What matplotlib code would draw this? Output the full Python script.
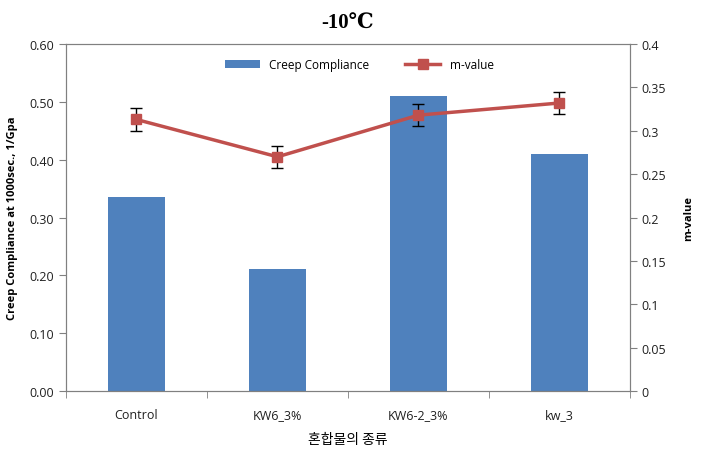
import matplotlib
matplotlib.use("Agg")
import matplotlib.pyplot as plt
from matplotlib.lines import Line2D
import numpy as np

# data
categories = ["Control", "KW6_3%", "KW6-2_3%", "kw_3"]
creep = [0.335, 0.211, 0.510, 0.410]
m_value = [0.313, 0.270, 0.318, 0.332]
m_err = [0.013, 0.013, 0.013, 0.013]

plt.rcParams['font.family'] = ['Open Sans', 'DejaVu Sans']

fig = plt.figure(figsize=(7.05, 4.52), dpi=100)
ax = fig.add_axes([0.0936, 0.1327, 0.80, 0.7677])
ax2 = ax.twinx()

x = np.arange(len(categories))
bars = ax.bar(x, creep, width=0.4, color='#4F81BD', label='Creep Compliance', zorder=2)
ax2.errorbar(x, m_value, yerr=m_err, color='#C0504D', lw=2.5, marker='s',
             markersize=7, ecolor='black', elinewidth=1, capsize=4, capthick=1,
             zorder=3)

ax.set_xlim(-0.5, len(categories) - 0.5)
ax.set_ylim(0, 0.6)
ax2.set_ylim(0, 0.4)
ax.set_yticks(np.arange(0, 0.61, 0.1))
ax.set_yticklabels(["%.2f" % v for v in np.arange(0, 0.61, 0.1)])
ax2.set_yticks(np.arange(0, 0.41, 0.05))
ax2.set_yticklabels(["0", "0.05", "0.1", "0.15", "0.2", "0.25", "0.3", "0.35", "0.4"])

ax.set_xticks(x)
ax.set_xticklabels(categories)
ax.set_xticks(np.arange(-0.5, len(categories), 1), minor=True)
ax.tick_params(axis='x', which='major', length=0, pad=12)
ax.tick_params(axis='x', which='minor', length=5, color='#808080')

for a in (ax, ax2):
    for s in a.spines.values():
        s.set_color('#808080')
    a.tick_params(axis='y', length=5, color='#808080', labelsize=9, labelcolor='#202020')
ax.tick_params(axis='x', labelsize=9, labelcolor='#202020')

ax.set_ylabel("Creep Compliance at 1000sec., 1/Gpa", fontsize=8, fontweight='bold', labelpad=8)
ax2.set_ylabel("m-value", fontsize=8, fontweight='bold', labelpad=12)
ax.set_xlabel("혼합물의 종류", fontsize=10, family=['Noto Sans CJK KR', 'DejaVu Sans'], labelpad=8)

ax.set_title("-10℃", fontsize=15, fontweight='bold',
             family=['Liberation Serif', 'DejaVu Serif'], pad=12)

# legend: line + marker only, no error caps
m_handle = Line2D([], [], color='#C0504D', lw=2.5, marker='s', markersize=7)
ax.legend([bars, m_handle], ['Creep Compliance', 'm-value'], loc='upper center', ncol=2,
          frameon=False, fontsize=8.5, bbox_to_anchor=(0.52, 0.99), columnspacing=3,
          handlelength=3)

fig.savefig("out.png", dpi=100)
